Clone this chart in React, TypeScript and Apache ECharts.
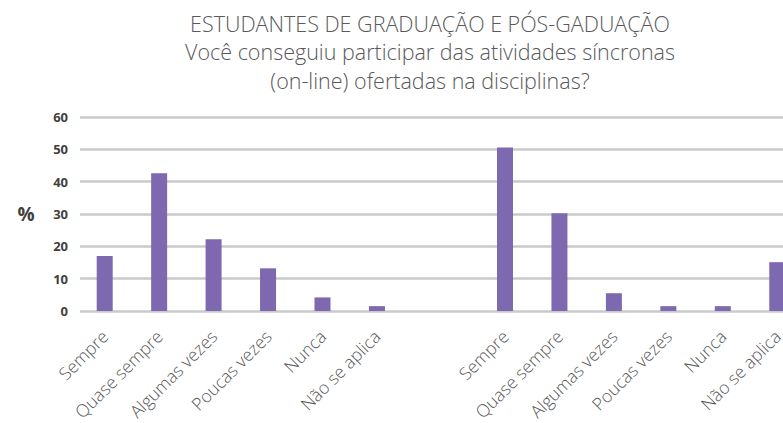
import React, { useEffect, useRef } from "react";
import * as echarts from "echarts";

const titleLines = [
  "ESTUDANTES DE GRADUAÇÃO E PÓS-GADUAÇÃO",
  "Você conseguiu participar das atividades síncronas",
  "(on-line) ofertadas na disciplinas?",
];
const categories = ["Sempre", "Quase sempre", "Algumas vezes", "Poucas vezes", "Nunca", "Não se aplica"];
const graduacao = [17, 42.6, 22.2, 13.2, 4.2, 1.5];
const posGraduacao = [50.6, 30.2, 5.5, 1.5, 1.5, 15.1];
const yMin = 0;
const yMax = 60;
const yInterval = 10;

const BAR = "#7E68AF";
const GRIDC = "#CACACA";
const FONT = "'Open Sans', sans-serif";

export default function App() {
  const ref = useRef<HTMLDivElement>(null);
  useEffect(() => {
    if (!ref.current) return;
    const chart = echarts.init(ref.current, null, { renderer: "svg" });
    const top = 117;
    const height = 194;
    const band = 54.45;
    const hiddenY = (gi: number) => ({
      type: "value",
      gridIndex: gi,
      min: yMin,
      max: yMax,
      interval: yInterval,
      show: false,
      splitLine: { show: false },
    });
    const catX = (gi: number) => ({
      type: "category",
      gridIndex: gi,
      data: categories,
      axisLine: { show: false },
      axisTick: { show: false },
      axisLabel: {
        rotate: 45,
        interval: 0,
        margin: 22,
        color: "#595959",
        fontFamily: FONT,
        fontWeight: 300,
        fontSize: 17.5,
      },
    });
    chart.setOption({
      animation: false,
      graphic: [
        {
          type: "text",
          x: 430,
          y: 9,
          style: {
            text: titleLines.join("\n"),
            fill: "#595959",
            fontFamily: FONT,
            fontWeight: 300,
            fontSize: 21.5,
            lineHeight: 28.5,
            textAlign: "center",
          },
        },
        {
          type: "text",
          x: 26,
          y: 214,
          style: {
            text: "%",
            fill: "#404040",
            fontFamily: FONT,
            fontWeight: "bold",
            fontSize: 19,
            textAlign: "center",
            textVerticalAlign: "middle",
          },
        },
      ],
      grid: [
        { left: 80, top, width: 703, height, outerBoundsMode: "none" },
        { left: 104.7 - band / 2, top, width: band * 6, height, outerBoundsMode: "none" },
        { left: 505 - band / 2, top, width: band * 6, height, outerBoundsMode: "none" },
      ],
      xAxis: [
        { type: "value", gridIndex: 0, min: 0, max: 1, show: false },
        catX(1),
        catX(2),
      ],
      yAxis: [
        {
          type: "value",
          gridIndex: 0,
          min: yMin,
          max: yMax,
          interval: yInterval,
          axisLine: { show: false },
          axisTick: { show: false },
          axisLabel: {
            color: "#404040",
            fontFamily: FONT,
            fontWeight: "bold",
            fontSize: 13,
            margin: 12,
          },
          splitLine: { lineStyle: { color: GRIDC, width: 2.5 } },
        },
        hiddenY(1),
        hiddenY(2),
      ],
      series: [
        {
          type: "bar",
          xAxisIndex: 1,
          yAxisIndex: 1,
          data: graduacao,
          barWidth: 16,
          itemStyle: { color: BAR },
        },
        {
          type: "bar",
          xAxisIndex: 2,
          yAxisIndex: 2,
          data: posGraduacao,
          barWidth: 16,
          itemStyle: { color: BAR },
        },
      ],
    });
    return () => chart.dispose();
  }, []);
  return (
    <div
      ref={ref}
      style={{ position: "fixed", left: 0, top: 0, width: 783, height: 423, background: "#fff" }}
    />
  );
}
